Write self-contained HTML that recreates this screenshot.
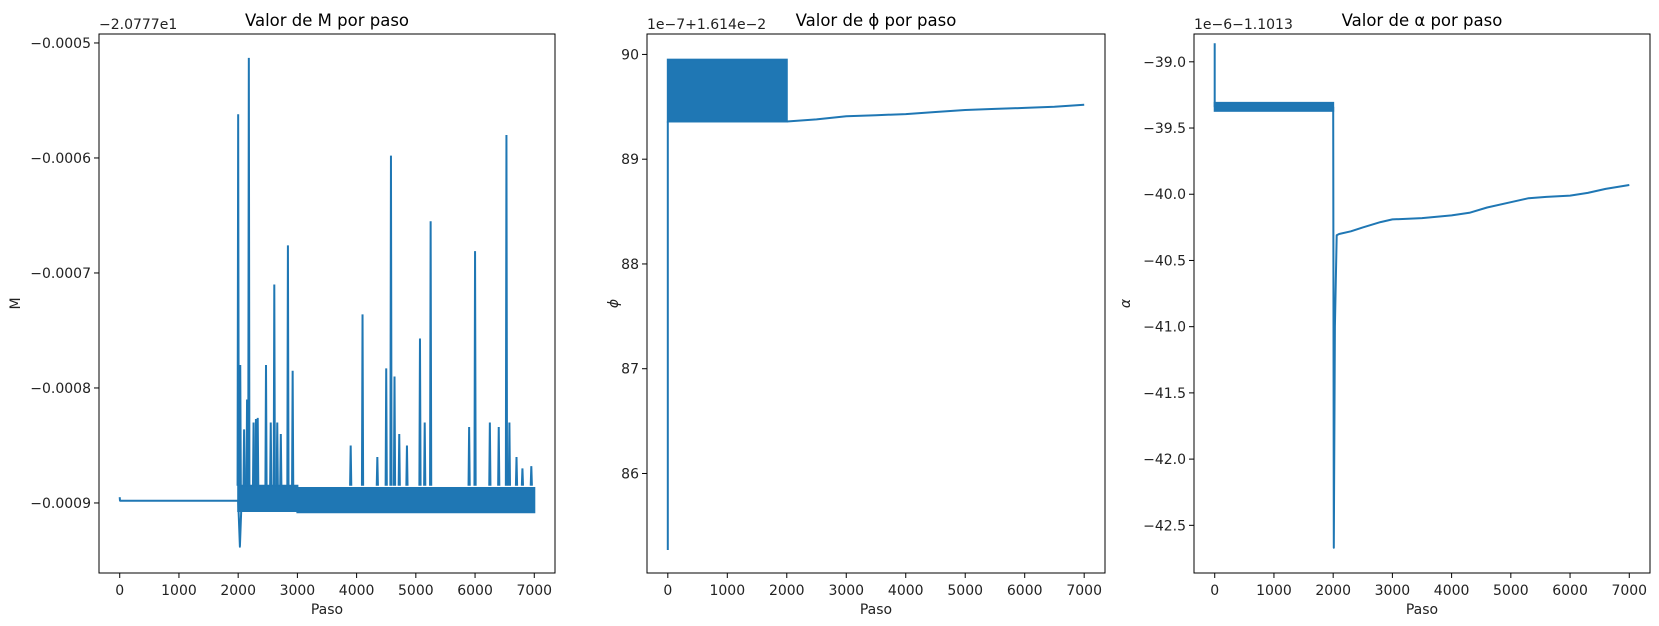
<!DOCTYPE html>
<html><head><meta charset="utf-8"><style>
html,body{margin:0;padding:0;background:#fff;}
svg{display:block;font-family:"DejaVu Sans","Liberation Sans",sans-serif;}
</style></head><body>
<svg id="fig" width="1659" height="626" viewBox="0 0 1659 626"></svg>
<script>
// ---------- data ----------
const xTicks = [0,1000,2000,3000,4000,5000,6000,7000];
// Panel M
const mTicks = [-0.0005,-0.0006,-0.0007,-0.0008,-0.0009];
const mTickLabels = ["\u22120.0005","\u22120.0006","\u22120.0007","\u22120.0008","\u22120.0009"];
const mFlatSteps = [0,5,10,2000];
const mFlatValues = [-0.000895,-0.000898,-0.000898,-0.000898];
const mDipStep = [2000,2030,2060];
const mDipValue = [-0.000898,-0.000938,-0.000895];
const mBandSteps = [2000,3000,3000,7000];
const mBandTop = [-0.000885,-0.000885,-0.000887,-0.000887];
const mBandBottom = [-0.000907,-0.000907,-0.000908,-0.000908];
const mSpikeSteps = [2000,2035,2100,2150,2180,2260,2300,2330,2470,2550,2610,2660,2720,2840,2920,3900,4100,4350,4500,4580,4640,4720,4850,5070,5150,5250,5900,6000,6250,6400,6530,6580,6700,6800,6950];
const mSpikeValues = [-0.000562,-0.00078,-0.000836,-0.00081,-0.000513,-0.00083,-0.000827,-0.000826,-0.00078,-0.00083,-0.00071,-0.00083,-0.00084,-0.000676,-0.000785,-0.00085,-0.000736,-0.00086,-0.000783,-0.000598,-0.00079,-0.00084,-0.00085,-0.000757,-0.00083,-0.000655,-0.000834,-0.000681,-0.00083,-0.000834,-0.00058,-0.00083,-0.00086,-0.00087,-0.000868];
// Panel phi
const pTicks = [86,87,88,89,90];
const pTickLabels = ["86","87","88","89","90"];
const pSpikeSteps = [0,0];
const pSpikeValues = [85.27,89.36];
const pBlockSteps = [0,2000];
const pBlockValues = [89.36,89.95];
const pLineSteps = [2000,2500,3000,3500,4000,4500,5000,5500,6000,6500,7000];
const pLineValues = [89.36,89.38,89.41,89.42,89.43,89.45,89.47,89.48,89.49,89.50,89.52];
// Panel alpha
const aTicks = [-39.0,-39.5,-40.0,-40.5,-41.0,-41.5,-42.0,-42.5];
const aTickLabels = ["\u221239.0","\u221239.5","\u221240.0","\u221240.5","\u221241.0","\u221241.5","\u221242.0","\u221242.5"];
const aStartSteps = [0,0,10];
const aStartValues = [-38.86,-39.34,-39.34];
const aBlockSteps = [0,2000];
const aBlockValues = [-39.37,-39.31];
const aLineSteps = [2000,2010,2030,2060,2100,2300,2500,2800,3000,3500,4000,4300,4600,5000,5300,5600,6000,6300,6600,7000];
const aLineValues = [-39.34,-42.67,-41.0,-40.31,-40.30,-40.28,-40.25,-40.21,-40.19,-40.18,-40.16,-40.14,-40.10,-40.06,-40.03,-40.02,-40.01,-39.99,-39.96,-39.93];

// ---------- drawing ----------
const NS="http://www.w3.org/2000/svg";
const fig=document.getElementById('fig');
const C="#1f77b4";
function mk(tag,attrs,parent){const e=document.createElementNS(NS,tag);for(const k in attrs)e.setAttribute(k,attrs[k]);(parent||fig).appendChild(e);return e;}
function txt(s,attrs,parent){const e=mk('text',attrs,parent);e.textContent=s;return e;}

function panel(cfg){
  const g=mk('g',{});
  
  
  const L=cfg.left,R=cfg.right,T=34,B=573;
  const x=v=>L+(v-(-350))/(7700)*(R-L);
  const y=v=>T+(cfg.ymax-v)/(cfg.ymax-cfg.ymin)*(B-T);
  cfg.draw(g,x,y);
  const frame=mk('rect',{x:L,y:T,width:R-L,height:B-T,fill:'none',stroke:'#000','stroke-width':1},g);
  
  
  xTicks.forEach(t=>{
    mk('line',{x1:x(t),x2:x(t),y1:B,y2:B+5,stroke:'#000','stroke-width':1},g);
    const l=txt(String(t),{x:x(t),y:B+22,'text-anchor':'middle','font-size':14,fill:'#222'},g);
    
    
  });
  cfg.yticks.forEach((t,i)=>{
    mk('line',{x1:L-5,x2:L,y1:y(t),y2:y(t),stroke:'#000','stroke-width':1},g);
    const l=txt(cfg.ylabels[i],{x:L-8,y:y(t)+5,'text-anchor':'end','font-size':14,fill:'#222'},g);
    
    
  });
  const xt=txt('Paso',{x:(L+R)/2,y:614,'text-anchor':'middle','font-size':14,fill:'#222'},g);
  
  
  const yt=txt(cfg.ylab,{x:0,y:0,'text-anchor':'middle','font-size':14,'font-style':cfg.yitalic?'italic':'normal',fill:'#222',transform:`translate(${cfg.ylabx},${(T+B)/2}) rotate(-90)`},g);
  
  
  const ti=txt(cfg.title,{x:(L+R)/2,y:26,'text-anchor':'middle','font-size':16.5,fill:'#000'},g);
  
  
  const of=txt(cfg.offset,{x:L,y:29,'font-size':14,fill:'#222'},g);
  
  
}
function path(g,xs,ys,x,y,name){
  const d=xs.map((s,i)=>(i?'L':'M')+x(s).toFixed(1)+' '+y(ys[i]).toFixed(1)).join(' ');
  const p=mk('path',{d:d,fill:'none',stroke:C,'stroke-width':2,'stroke-linejoin':'round'},g);
  
  
  return p;
}

panel({name:'panel-m',left:99,right:555,ymax:-0.0004922,ymin:-0.0009609,yticks:mTicks,ylabels:mTickLabels,
  ylab:'M',ylabx:20,title:'Valor de M por paso',offset:'\u22122.0777e1',
  draw:(g,x,y)=>{
    path(g,mFlatSteps,mFlatValues,x,y,'m-flat-line');
    path(g,mDipStep,mDipValue,x,y,'m-dip');
    const top=mBandSteps.map((s,i)=>x(s).toFixed(1)+','+y(mBandTop[i]).toFixed(1));
    const bot=mBandSteps.map((s,i)=>x(s).toFixed(1)+','+y(mBandBottom[i]).toFixed(1)).reverse();
    const band=mk('polygon',{points:top.concat(bot).join(' '),fill:C,stroke:C,'stroke-width':2},g);
    
    
    mSpikeSteps.forEach((s,i)=>{
      const sp=mk('path',{d:`M${x(s-10)} ${y(mBandTop[0])} L${x(s)} ${y(mSpikeValues[i])} L${x(s+10)} ${y(mBandTop[0])}`,fill:'none',stroke:C,'stroke-width':2},g);
      
      
    });
  }});

panel({name:'panel-phi',left:647,right:1105,ymax:90.195,ymin:85.05,yticks:pTicks,ylabels:pTickLabels,
  ylab:'\u03D5',ylabx:618,yitalic:true,title:'Valor de \u03D5 por paso',offset:'1e\u22127+1.614e\u22122',
  draw:(g,x,y)=>{
    path(g,pSpikeSteps,pSpikeValues,x,y,'phi-initial-spike');
    const r=mk('rect',{x:x(pBlockSteps[0]),y:y(pBlockValues[1]),width:x(pBlockSteps[1])-x(pBlockSteps[0]),height:y(pBlockValues[0])-y(pBlockValues[1]),fill:C,stroke:C,'stroke-width':2},g);
    
    
    path(g,pLineSteps,pLineValues,x,y,'phi-line');
  }});

panel({name:'panel-alpha',left:1194,right:1650,ymax:-38.79,ymin:-42.86,yticks:aTicks,ylabels:aTickLabels,
  ylab:'\u03B1',ylabx:1130,yitalic:true,title:'Valor de \u03B1 por paso',offset:'1e\u22126\u22121.1013',
  draw:(g,x,y)=>{
    path(g,aStartSteps,aStartValues,x,y,'alpha-initial');
    const r=mk('rect',{x:x(aBlockSteps[0]),y:y(aBlockValues[1]),width:x(aBlockSteps[1])-x(aBlockSteps[0]),height:y(aBlockValues[0])-y(aBlockValues[1]),fill:C,stroke:C,'stroke-width':2},g);
    
    
    path(g,aLineSteps,aLineValues,x,y,'alpha-line');
  }});
</script>
</body></html>
